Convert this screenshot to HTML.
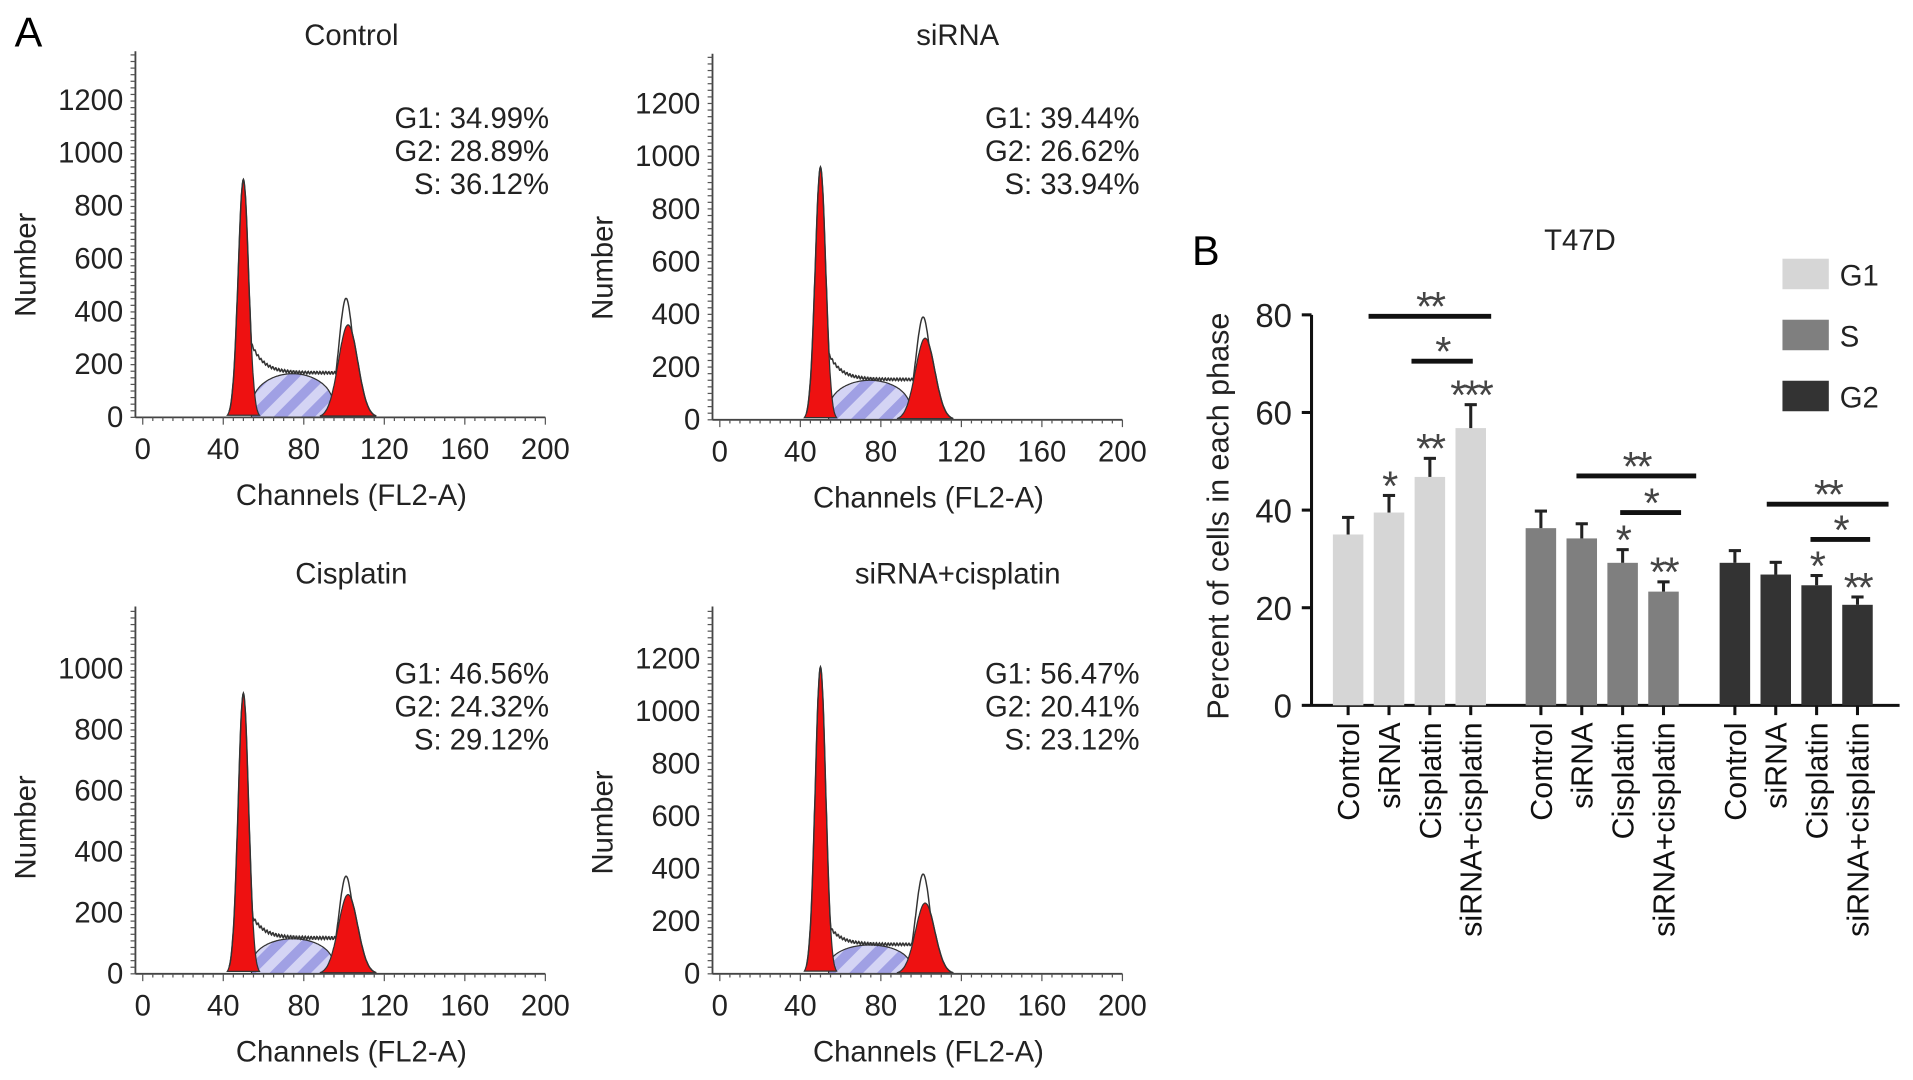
<!DOCTYPE html>
<html><head><meta charset="utf-8">
<style>
html,body{margin:0;padding:0;background:#fff;}
svg{display:block;font-family:"Liberation Sans",sans-serif;}
</style></head>
<body>
<svg id="fig" width="1913" height="1080" viewBox="0 0 1568 885" preserveAspectRatio="none" xmlns="http://www.w3.org/2000/svg">
<defs>
<pattern id="hatch" patternUnits="userSpaceOnUse" width="16" height="16" patternTransform="rotate(45)">
<rect width="16" height="16" fill="#d4d4f4"/>
<rect width="8" height="16" fill="#a0a0e4"/>
</pattern>
</defs>
<text x="12" y="38" font-size="34">A</text>
<text x="977" y="217" font-size="34">B</text>
<g id="hists"></g>
<g id="bars"></g>
</svg>
<script>
const NS="http://www.w3.org/2000/svg";
function el(tag,attrs,parent,txt){const e=document.createElementNS(NS,tag);for(const k in attrs)e.setAttribute(k,attrs[k]);if(txt!==undefined)e.textContent=txt;parent.appendChild(e);return e;}

// ---------- Panel A histogram data ----------
const histTitles=["Control","siRNA","Cisplatin","siRNA+cisplatin"];
const histG1=["G1: 34.99%","G1: 39.44%","G1: 46.56%","G1: 56.47%"];
const histG2=["G2: 28.89%","G2: 26.62%","G2: 24.32%","G2: 20.41%"];
const histS=["S: 36.12%","S: 33.94%","S: 29.12%","S: 23.12%"];
const g1PeakHeight=[900,960,920,1170];
const g2PeakHeight=[350,310,260,270];
const g2OutlineHeight=[450,390,320,380];
const sPlateauHeight=[165,150,115,110];
const yMaxTick=[1200,1200,1000,1200];
const xTicks=[0,40,80,120,160,200];

const panels=[
 {x0:117,x1:447,y0:342,yTop:82,vTop:1200,axisTop:42,tx:288,ty:37,lx:450,ly:105},
 {x0:590,x1:920,y0:344,yTop:85,vTop:1200,axisTop:44,tx:785,ty:37,lx:934,ly:105},
 {x0:117,x1:447,y0:798,yTop:548,vTop:1000,axisTop:497,tx:288,ty:478,lx:450,ly:560},
 {x0:590,x1:920,y0:798,yTop:540,vTop:1200,axisTop:497,tx:785,ty:478,lx:934,ly:560}
];
const H=document.getElementById('hists');
function gauss(c,m,s){return Math.exp(-0.5*((c-m)/s)**2);}
function plateau(c,a,b){if(c<a||c>b)return 0;const t=(c-a)/(b-a);return Math.pow(Math.sin(Math.PI*t),0.3);}
panels.forEach((p,i)=>{
  const g=el('g',{},H);
  
  
  const X=c=>p.x0+(p.x1-p.x0)*c/200;
  const Y=v=>p.y0-(p.y0-p.yTop)*v/p.vTop;
  const path=(f,a,b)=>{let d='';for(let c=a;c<=b;c+=0.25){d+=(d?'L':'M')+X(c).toFixed(1)+','+Y(f(c)).toFixed(1);}return d;};
  const sf=c=>sPlateauHeight[i]*plateau(c,54,95);
  const sp=el('path',{d:path(sf,54,95)+'Z',fill:'url(#hatch)',stroke:'#333','stroke-width':1},g);
  
  const g1f=c=>g1PeakHeight[i]*gauss(c,50,2.6);
  const r1=el('path',{d:path(g1f,42,58)+'Z',fill:'#ee1111',stroke:'#333','stroke-width':1},g);
  
  const g2f=c=>g2PeakHeight[i]*gauss(c,102,4.8);
  const r2=el('path',{d:path(g2f,88,116)+'Z',fill:'#ee1111',stroke:'#333','stroke-width':1},g);
  
  const of=c=>{let base=0;
    if(c>51&&c<100){base=sPlateauHeight[i]*1.02+sPlateauHeight[i]*1.1*Math.exp(-(c-51)/6)+Math.sin(c*4.3)*5;}
    return Math.max(g1f(c),g2f(c), g2OutlineHeight[i]*gauss(c,101,3.6), base);};
  const ol=el('path',{d:path(of,43,116),fill:'none',stroke:'#333','stroke-width':1.2},g);
  
  el('line',{x1:p.x0-6,y1:p.y0,x2:p.x1,y2:p.y0,stroke:'#444','stroke-width':1.5},g);
  el('line',{x1:p.x0-6,y1:p.y0,x2:p.x0-6,y2:p.axisTop,stroke:'#444','stroke-width':1.5},g);
  for(let c=0;c<=200;c+=5){el('line',{x1:X(c),y1:p.y0,x2:X(c),y2:p.y0+(c%40==0?6:3),stroke:'#555','stroke-width':1},g);}
  for(let yy=p.y0;yy>=p.axisTop;yy-=5.4){el('line',{x1:p.x0-6,y1:yy,x2:p.x0-10,y2:yy,stroke:'#555','stroke-width':1},g);}
  xTicks.forEach(t=>{const tt=el('text',{x:X(t),y:p.y0+34,'font-size':24,'text-anchor':'middle',fill:'#222'},g,String(t));
    });
  for(let v=0;v<=yMaxTick[i];v+=200){const tt=el('text',{x:p.x0-16,y:Y(v)+8,'font-size':24,'text-anchor':'end',fill:'#222'},g,String(v));
    }
  const xt=el('text',{x:(p.x0+p.x1)/2+6,y:p.y0+72,'font-size':24,'text-anchor':'middle',fill:'#222'},g,'Channels (FL2-A)');
  
  const yt=el('text',{x:0,y:0,'font-size':24,'text-anchor':'middle',fill:'#222',transform:`translate(${p.x0-88},${(p.y0+p.yTop)/2+5}) rotate(-90)`},g,'Number');
  
  const ti=el('text',{x:p.tx,y:p.ty,'font-size':24,'text-anchor':'middle',fill:'#222'},g,histTitles[i]);
  
  [histG1[i],histG2[i],histS[i]].forEach((s,k)=>{const t=el('text',{x:p.lx,y:p.ly+k*27,'font-size':24,'text-anchor':'end',fill:'#222'},g,s);
    });
});

// ---------- Panel B bar chart data ----------
const categories=["Control","siRNA","Cisplatin","siRNA+cisplatin"];
const phases=["G1","S","G2"];
const g1Values=[35,39.5,46.8,56.8];
const g1Errors=[3.5,3.5,3.8,4.8];
const sValues=[36.3,34.2,29.2,23.3];
const sErrors=[3.5,3,2.7,2];
const g2Values=[29.2,26.8,24.6,20.6];
const g2Errors=[2.5,2.5,2,1.6];
const starsG1=["","*","**","***"];
const starsS=["","","*","**"];
const starsG2=["","","*","**"];
const yTicksB=[0,20,40,60,80];
const seriesVals=[g1Values,sValues,g2Values];
const seriesErr=[g1Errors,sErrors,g2Errors];
const seriesStars=[starsG1,starsS,starsG2];
const colors=["#d6d6d6","#7f7f7f","#333333"];
// significance brackets: group, from (category position), to, level value, label
const bracketGroup=[0,0,1,1,2,2];
const bracketFrom=[0.5,1.55,0.87,1.94,0.78,1.85];
const bracketTo=[3.5,3.05,3.8,3.43,3.76,3.31];
const bracketLevel=[79.7,70.5,47,39.5,41.2,34];
const bracketLabel=["**","*","**","*","**","*"];

const B=document.getElementById('bars');
const bx0=1075, by0=578, byTop=258;
const YB=v=>by0-(by0-byTop)*v/80;
const groupStart=[1105,1263,1422];
const step=33.5, bw=25;
const XB=(gi,ci)=>groupStart[gi]+ci*step;
el('line',{x1:bx0,y1:by0,x2:1557,y2:by0,stroke:'#111','stroke-width':2.5},B);
el('line',{x1:bx0,y1:by0,x2:bx0,y2:byTop,stroke:'#111','stroke-width':2.5},B);
yTicksB.forEach(v=>{el('line',{x1:bx0-8,y1:YB(v),x2:bx0,y2:YB(v),stroke:'#111','stroke-width':2.5},B);
  const t=el('text',{x:bx0-16,y:YB(v)+10,'font-size':27,'text-anchor':'end',fill:'#222'},B,String(v));
  });
const yl=el('text',{x:0,y:0,'font-size':25,'text-anchor':'middle',fill:'#222',transform:`translate(1007,${(by0+byTop)/2+5}) rotate(-90)`},B,'Percent of cells in each phase');

const tt=el('text',{x:1295,y:205,'font-size':24,'text-anchor':'middle',fill:'#222'},B,'T47D');

seriesVals.forEach((vals,gi)=>{
  vals.forEach((v,ci)=>{
    const cx=XB(gi,ci);
    const r=el('rect',{x:cx-bw/2,y:YB(v),width:bw,height:by0-YB(v),fill:colors[gi]},B);
    
    
    const top=YB(v+seriesErr[gi][ci]);
    el('line',{x1:cx,y1:YB(v),x2:cx,y2:top,stroke:'#222','stroke-width':2.5},B);
    el('line',{x1:cx-5,y1:top,x2:cx+5,y2:top,stroke:'#222','stroke-width':2.5},B);
    const s=seriesStars[gi][ci];
    if(s){const st=el('text',{x:cx,y:top+4,'font-size':34,'text-anchor':'middle',fill:'#444','letter-spacing':'-2'},B,s);
      }
    el('line',{x1:cx,y1:by0,x2:cx,y2:by0+8,stroke:'#111','stroke-width':2.5},B);
    const lab=el('text',{x:0,y:0,'font-size':25,'text-anchor':'end',fill:'#111',transform:`translate(${cx+9},${by0+14}) rotate(-90)`},B,categories[ci]);
    
  });
});
bracketGroup.forEach((gi,k)=>{
  const x1=XB(gi,0)+bracketFrom[k]*step, x2=XB(gi,0)+bracketTo[k]*step;
  const l=el('line',{x1:x1,y1:YB(bracketLevel[k]),x2:x2,y2:YB(bracketLevel[k]),stroke:'#111','stroke-width':4},B);
  
  const t=el('text',{x:(x1+x2)/2,y:YB(bracketLevel[k])+4,'font-size':34,'text-anchor':'middle',fill:'#444','letter-spacing':'-2'},B,bracketLabel[k]);
  
});
phases.forEach((ph,k)=>{
  const r=el('rect',{x:1461,y:212+k*50,width:38,height:25,fill:colors[k]},B);
  
  const t=el('text',{x:1508,y:234+k*50,'font-size':24,fill:'#222'},B,ph);
  
});
</script>
</body></html>
